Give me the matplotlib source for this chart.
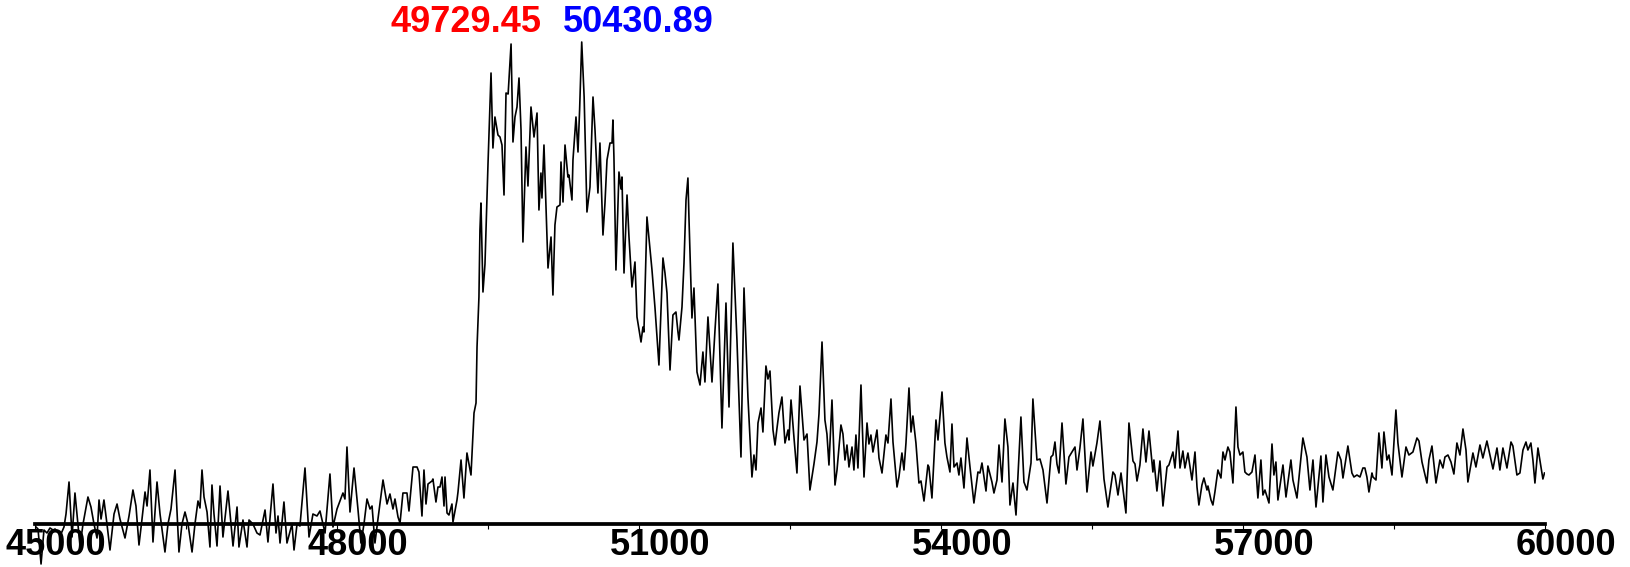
import matplotlib
matplotlib.use("Agg")
import matplotlib.pyplot as plt
import matplotlib.transforms as mtransforms

# m/z (Da) and intensity (a.u.), in three stretches
mz_low = [45000, 45030, 45060, 45089, 45119, 45149, 45179, 45199, 45228, 45258,
          45288, 45308, 45338, 45368, 45397, 45447, 45477, 45526, 45556, 45586,
          45616, 45636, 45656, 45685, 45715, 45745, 45785, 45815, 45844, 45894,
          45934, 45973, 46003, 46033, 46063, 46093, 46113, 46142, 46172, 46212,
          46242, 46291, 46321, 46351, 46391, 46430, 46460, 46490, 46520, 46560,
          46589, 46619, 46639, 46659, 46679, 46709, 46738, 46758, 46778, 46808,
          46838, 46867, 46917, 46967, 47007, 47026, 47066, 47106, 47126, 47165,
          47205, 47235, 47285, 47314, 47364, 47394, 47414, 47434, 47473, 47503,
          47553, 47573, 47603, 47632, 47682, 47722, 47761, 47801, 47831, 47881,
          47930, 47960, 48000, 48059, 48079, 48099]
int_low = [-2, -5, -40, -6, -9, -4, -6, -5, -8, -10,
           -3, 10, 42, -13, 31, -22, 0, 27, 17, 0,
           -14, 24, 5, 24, 0, -26, 10, 20, 5, -14,
           8, 34, 18, -21, 5, 32, 18, 54, -18, 42,
           10, -28, 0, 15, 54, -28, 0, 12, 0, -28,
           0, 23, 16, 54, 27, 12, -23, 39, 10, -22,
           38, -13, 33, -22, 17, -23, 4, -23, 4, 0,
           -9, -11, 14, -18, 40, -9, 8, -19, 22, -19,
           0, -26, 0, -2, 56, -13, 10, 8, 13, -9,
           50, -3, 15, 31, 25, 77]

mz_main = [48129, 48169, 48208, 48238, 48268, 48298, 48328, 48348, 48377, 48407,
           48457, 48497, 48526, 48556, 48576, 48606, 48626, 48655, 48695, 48715,
           48755, 48795, 48814, 48844, 48864, 48884, 48904, 48944, 48953, 48983,
           49003, 49023, 49043, 49063, 49073, 49093, 49112, 49142, 49152, 49192,
           49202, 49232, 49261, 49291, 49331, 49361, 49381, 49391, 49410, 49420,
           49430, 49450, 49470, 49500, 49530, 49549, 49569, 49599, 49619, 49639,
           49659, 49679, 49700, 49729, 49748, 49768, 49788, 49808, 49828, 49847,
           49877, 49897, 49927, 49957, 49987, 50006, 50026, 50036, 50056, 50086,
           50096, 50126, 50145, 50165, 50185, 50215, 50225, 50245, 50265, 50294,
           50304, 50334, 50344, 50374, 50394, 50410, 50431, 50455, 50483, 50513,
           50543, 50563, 50592, 50612,
           50642, 50662, 50682, 50712, 50732, 50741, 50751, 50771, 50801, 50821,
           50831, 50851, 50881, 50900, 50930, 50960, 50980, 51020, 51039, 51049,
           51079, 51099, 51129, 51159, 51198, 51238, 51258, 51278, 51308, 51337,
           51367, 51387, 51397, 51427, 51447, 51467, 51486, 51496, 51526, 51546,
           51576, 51606, 51635, 51655, 51685, 51725, 51755, 51784, 51824, 51864,
           51894, 51933, 51973, 52013, 52043, 52082, 52122, 52142, 52162, 52182,
           52212, 52231, 52261, 52281, 52301, 52331, 52351, 52371, 52390, 52420,
           52450, 52480, 52490, 52510, 52539, 52569, 52599, 52639, 52669, 52698,
           52738, 52768, 52788, 52818, 52847, 52867, 52887, 52917, 52947, 52967,
           53006, 53026, 53046, 53066, 53086]
int_main = [12, 56, 15, -19, 0, 25, 15, 18, -19, 5,
            44, 20, 30, 15, 25, 7, 1, 31, 31, 13,
            57, 57, 52, 8, 54, 20, 40, 43, 45, 22,
            37, 37, 47, 18, 47, 11, 9, 20, 2, 24,
            32, 64, 26, 71, 49, 111, 121, 177, 227, 294,
            321, 232, 260, 360, 451, 376, 407, 389, 387, 379,
            329, 431, 430, 480, 382, 407, 417, 446, 394, 282,
            377, 338, 417, 387, 411, 314, 351, 326, 379, 287,
            256, 287, 229, 299, 317, 319, 362, 322, 379, 347,
            349, 324, 364, 407, 372, 414, 482, 427, 312, 337,
            427, 394, 331, 381,
            289, 321, 364, 381, 381, 404, 367, 254, 352, 335,
            347, 251, 329, 288, 237, 262, 207, 182, 197, 192,
            307, 286, 254, 216, 159, 266, 251, 231, 154, 209,
            212, 192, 184, 217, 261, 324, 346, 307, 206, 236,
            152, 139, 172, 142, 207, 142, 194, 240, 96, 221,
            117, 281, 184, 67, 236, 127, 47, 69, 54, 101,
            116, 92, 158, 145, 153, 94, 79, 96, 111, 127,
            81, 94, 84, 124, 87, 51, 138, 84, 90, 34,
            60, 82, 110, 182, 104, 90, 59, 124, 39, 54,
            99, 90, 64, 79, 57]

mz_tail = [53116, 53135, 53155, 53175, 53205, 53235, 53265, 53284, 53304, 53324,
           53364, 53384, 53414, 53453, 53473, 53503, 53523, 53563, 53582, 53612,
           53632, 53652, 53682, 53702, 53721, 53751, 53781, 53801, 53831, 53870,
           53880, 53910, 53950, 53970, 54010, 54039, 54059, 54089, 54109, 54129,
           54159, 54178, 54198, 54228, 54258, 54288, 54327, 54367, 54387, 54407,
           54447, 54466, 54506, 54526, 54556, 54576, 54606, 54635, 54665, 54685,
           54715, 54745, 54794, 54824, 54854, 54894, 54913, 54953, 54983, 55013,
           55053, 55092, 55112, 55132, 55152, 55172, 55202, 55241, 55271, 55301,
           55331, 55351, 55380, 55410, 55450, 55490, 55509, 55549, 55579, 55619,
           55658, 55708, 55728, 55758, 55788, 55837, 55867, 55907, 55927, 55947,
           55976, 56006, 56036, 56066, 56105, 56115, 56145, 56175, 56205, 56245,
           56264, 56304, 56324, 56354, 56374, 56403, 56423, 56453, 56493, 56523,
           56543, 56562,
           56592, 56612, 56642, 56652, 56682, 56701, 56721, 56751, 56781, 56801,
           56821, 56850, 56870, 56900, 56930, 56950, 56970, 56999, 57019, 57039,
           57059, 57089, 57119, 57148, 57178, 57198, 57218, 57258, 57288, 57307,
           57327, 57347, 57397, 57427, 57476, 57496, 57536, 57595, 57635, 57665,
           57695, 57725, 57774, 57794, 57824, 57854, 57893, 57943, 57973, 57993,
           58042, 58082, 58102, 58132, 58162, 58191, 58211, 58231, 58251, 58281,
           58291, 58321, 58350, 58380, 58400, 58430, 58450, 58480, 58519, 58539,
           58579, 58619, 58648, 58688, 58728, 58748, 58778, 58827, 58847, 58877,
           58917, 58956, 58986, 59006, 59036, 59066, 59095, 59125, 59155, 59185,
           59215, 59234, 59284, 59314, 59354, 59383, 59423, 59453, 59483, 59523,
           59552, 59582, 59622, 59662, 59681, 59721, 59751, 59781, 59811, 59830,
           59860, 59880, 59900, 59930, 59979, 59995]
int_tail = [77, 54, 89, 56, 139, 47, 101, 80, 89, 72,
            94, 66, 51, 89, 81, 125, 82, 37, 47, 71,
            54, 81, 136, 92, 108, 81, 41, 43, 23, 59,
            57, 26, 104, 84, 132, 81, 67, 52, 100, 57,
            61, 49, 66, 36, 86, 57, 21, 52, 51, 61,
            33, 58, 42, 31, 44, 79, 42, 105, 77, 19,
            41, 9, 107, 42, 34, 61, 125, 64, 65, 54,
            21, 67, 69, 82, 60, 51, 101, 40, 67, 72,
            77, 54, 76, 105, 32, 72, 58, 81, 103, 45,
            17, 52, 49, 29, 51, 11, 101, 63, 60, 43,
            59, 95, 62, 93, 52, 64, 33, 63, 18, 57,
            59, 72, 56, 93, 56, 73, 56, 71, 44, 72,
            37, 19,
            39, 46, 34, 38, 24, 19, 32, 54, 46, 72,
            64, 77, 72, 41, 117, 77, 69, 72, 52, 50,
            49, 52, 69, 26, 64, 29, 34, 21, 80, 49,
            62, 24, 59, 27, 64, 44, 26, 86, 67, 34,
            64, 17, 68, 22, 69, 47, 34, 72, 64, 46,
            78, 51, 47, 49, 47, 56, 56, 47, 32, 51,
            47, 44, 91, 56, 92, 64, 69, 49, 114, 81,
            47, 77, 69, 72, 86, 83, 62, 41, 64, 78,
            41, 64, 56, 67, 69, 62, 50, 81, 69, 95,
            74, 42, 71, 57, 79, 66, 83, 69, 55, 76,
            54, 76, 56, 82, 78, 49, 51, 74, 82, 74,
            81, 64, 41, 76, 45, 51]

peak_masses = [49729.45, 50430.89]
peak_colors = ["red", "blue"]

tick_major = list(range(45000, 60001, 3000))
tick_minor = list(range(46500, 60000, 3000))

mz = mz_low + mz_main + mz_tail
intensity = int_low + int_main + int_tail

fig = plt.figure(figsize=(16.3, 5.67), dpi=100)
ax = fig.add_axes([35 / 1630, 0, 1510 / 1630, 1])

ax.plot(mz, intensity, color="black", lw=1.2, solid_joinstyle="round")

ax.set_xlim(45000, 60000)
ax.set_ylim(-43, 524)

for side in ["top", "right", "left"]:
    ax.spines[side].set_visible(False)
ax.spines["bottom"].set_position(("data", 0))
ax.spines["bottom"].set_linewidth(2.7)
ax.set_yticks([])

ax.set_xticks(tick_major)
ax.set_xticklabels([str(t) for t in tick_major])
ax.set_xticks(tick_minor, minor=True)
ax.tick_params(which="both", direction="out", length=3.6, width=0.8, color="black")
ax.tick_params(which="major", pad=-0.5, labelsize=26)

# labels sit a little to the right of their ticks in the original
shift = mtransforms.ScaledTranslation(21 / 100, 0, fig.dpi_scale_trans)
for lab in ax.get_xticklabels():
    lab.set_fontweight("bold")
    lab.set_family(["Liberation Sans", "DejaVu Sans"])
    lab.set_transform(lab.get_transform() + shift)

# peak labels, set side by side above the two maxima
offsets = [-45, 57]
for m, c, dx in zip(peak_masses, peak_colors, offsets):
    ax.annotate("%.2f" % m, xy=(m, 492), xytext=(dx, 0), textcoords="offset pixels",
                ha="center", va="baseline", color=c, fontsize=26, fontweight="bold",
                family=["Liberation Sans", "DejaVu Sans"])

fig.savefig("out.png", dpi=100)
